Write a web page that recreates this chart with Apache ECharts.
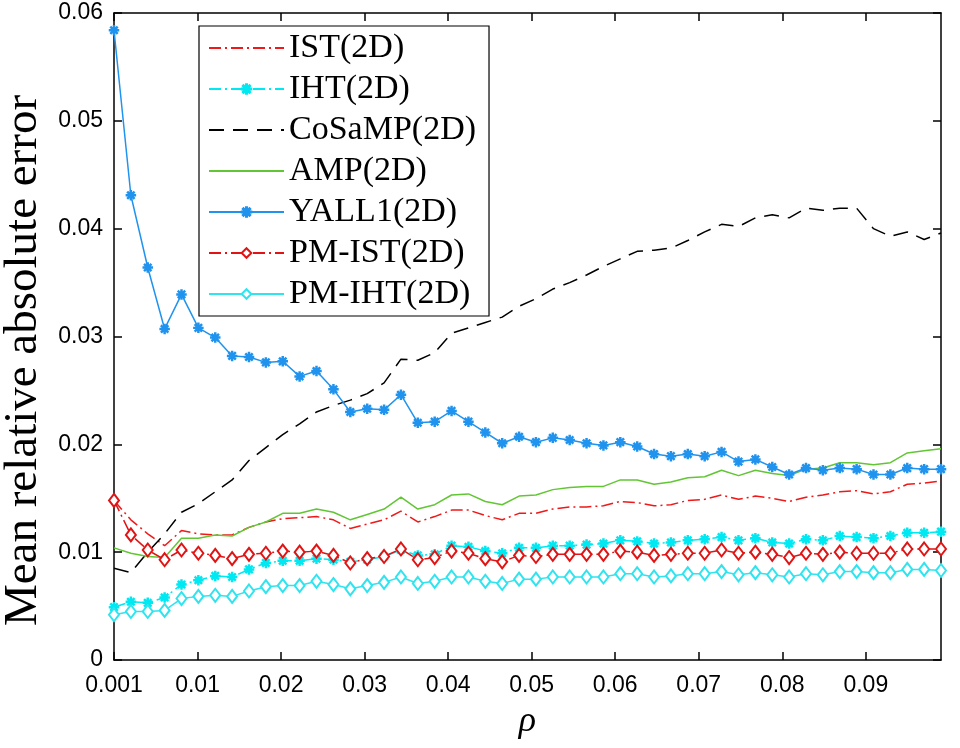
<!DOCTYPE html>
<html>
<head>
<meta charset="utf-8">
<script src="https://cdn.jsdelivr.net/npm/echarts@6/dist/echarts.min.js"></script>
<style>
  html, body { margin: 0; padding: 0; background: #fff; }
  #chart { width: 960px; height: 748px; }
</style>
</head>
<body>
<div id="chart"></div>
<script>
// ---- data ----
const rho = [0.00100,0.00302,0.00504,0.00706,0.00908,0.01110,0.01312,0.01514,0.01716,0.01918,
             0.02120,0.02322,0.02524,0.02727,0.02929,0.03131,0.03333,0.03535,0.03737,0.03939,
             0.04141,0.04343,0.04545,0.04747,0.04949,0.05151,0.05353,0.05555,0.05757,0.05959,
             0.06161,0.06363,0.06565,0.06767,0.06969,0.07171,0.07373,0.07576,0.07778,0.07980,
             0.08182,0.08384,0.08586,0.08788,0.08990,0.09192,0.09394,0.09596,0.09798,0.10000];

const xTickValues = [0.001,0.011,0.021,0.031,0.041,0.051,0.061,0.071,0.081,0.091];
const xTickLabels = ['0.001','0.01','0.02','0.03','0.04','0.05','0.06','0.07','0.08','0.09'];

const IST = [.0148,.0130,.0117,.0106,.0120,.0117,.0116,.0116,.0123,.0128,
             .0131,.0132,.0133,.0130,.0122,.0126,.0130,.0138,.0128,.0133,
             .0139,.0139,.0134,.0130,.0136,.0136,.0140,.0142,.0142,.0143,
             .0147,.0146,.0143,.0144,.0148,.0149,.0153,.0149,.0152,.0150,
             .0147,.0151,.0153,.0156,.0157,.0154,.0156,.0163,.0164,.0166];

const IHT = [.0049,.0054,.0053,.0058,.0070,.0074,.0078,.0077,.0084,.0090,
             .0092,.0092,.0094,.0093,.0091,.0093,.0096,.0102,.0097,.0098,
             .0106,.0105,.0101,.0099,.0104,.0104,.0106,.0106,.0107,.0108,
             .0111,.0110,.0108,.0109,.0111,.0112,.0114,.0111,.0113,.0109,
             .0108,.0112,.0111,.0115,.0114,.0113,.0115,.0118,.0118,.0119];

const CoSaMP = [.0085,.0081,.0100,.0117,.0137,.0145,.0156,.0167,.0185,.0197,
                .0209,.0219,.0230,.0236,.0241,.0247,.0257,.0279,.0278,.0285,
                .0303,.0308,.0313,.0318,.0328,.0335,.0344,.0350,.0357,.0365,
                .0372,.0379,.0380,.0382,.0389,.0397,.0404,.0402,.0410,.0413,
                .0410,.0419,.0417,.0419,.0419,.0400,.0393,.0397,.0390,.0396];

const AMP = [.0104,.0099,.0096,.0095,.0113,.0113,.0116,.0115,.0123,.0128,
             .0136,.0136,.0140,.0137,.0130,.0135,.0140,.0151,.0140,.0144,
             .0153,.0154,.0147,.0144,.0152,.0153,.0158,.0160,.0161,.0161,
             .0167,.0167,.0163,.0165,.0169,.0170,.0176,.0171,.0176,.0173,
             .0171,.0177,.0178,.0183,.0183,.0181,.0183,.0192,.0194,.0196];

const YALL1 = [.0584,.0431,.0364,.0307,.0339,.0308,.0299,.0282,.0281,.0276,
               .0277,.0263,.0268,.0251,.0230,.0233,.0232,.0246,.0220,.0221,
               .0231,.0221,.0211,.0201,.0207,.0202,.0206,.0204,.0201,.0199,
               .0202,.0198,.0191,.0189,.0191,.0189,.0193,.0184,.0186,.0179,
               .0172,.0178,.0176,.0178,.0177,.0172,.0172,.0178,.0177,.0177];

const PM_IST = [.0148,.0116,.0102,.0093,.0102,.0099,.0097,.0094,.0098,.0099,
                .0101,.0100,.0101,.0097,.0090,.0094,.0096,.0103,.0093,.0095,
                .0101,.0099,.0094,.0091,.0097,.0096,.0098,.0098,.0098,.0098,
                .0101,.0100,.0097,.0098,.0099,.0099,.0102,.0099,.0100,.0098,
                .0095,.0099,.0098,.0100,.0099,.0099,.0099,.0103,.0103,.0103];

const PM_IHT = [.0042,.0045,.0045,.0046,.0057,.0059,.0060,.0059,.0064,.0068,
                .0069,.0069,.0073,.0070,.0066,.0069,.0072,.0077,.0071,.0073,
                .0077,.0077,.0073,.0071,.0075,.0075,.0077,.0077,.0077,.0077,
                .0080,.0080,.0077,.0078,.0080,.0080,.0082,.0079,.0081,.0079,
                .0077,.0080,.0079,.0082,.0082,.0081,.0081,.0084,.0084,.0083];

const seriesNames = ['IST(2D)','IHT(2D)','CoSaMP(2D)','AMP(2D)','YALL1(2D)','PM-IST(2D)','PM-IHT(2D)'];
const seriesValues = [IST, IHT, CoSaMP, AMP, YALL1, PM_IST, PM_IHT];

// ---- styles ----
const asterisk = 'path://M-0.55,-5L0.55,-5L0.55,5L-0.55,5Z M-5,-0.55L5,-0.55L5,0.55L-5,0.55Z M-3.14,-3.92L3.92,3.14L3.14,3.92L-3.92,-3.14Z M-3.92,3.14L3.14,-3.92L3.92,-3.14L-3.14,3.92Z';
const dashDot = [12, 4, 2, 4];
const styles = [
  { color: '#f01818', type: dashDot, symbol: 'none' },
  { color: '#00e8f2', type: dashDot, symbol: asterisk, size: 9 },
  { color: '#000000', type: [15, 9], symbol: 'none' },
  { color: '#62c634', type: 'solid', symbol: 'none' },
  { color: '#1f93ee', type: 'solid', symbol: asterisk, size: 9 },
  { color: '#e01414', type: dashDot, symbol: 'emptyDiamond', size: [10, 13] },
  { color: '#2fe4ee', type: 'solid', symbol: 'emptyDiamond', size: [10, 13] }
];

function pairs(vals) { return vals.map((v, i) => [rho[i], v]); }

const series = seriesNames.map((name, i) => {
  const st = styles[i];
  const s = {
    name: name,
    type: 'line',
    xAxisIndex: 0,
    yAxisIndex: 0,
    data: pairs(seriesValues[i]),
    color: st.color,
    lineStyle: { color: st.color, width: 1.5, type: st.type },
    animation: false,
    silent: true
  };
  if (st.symbol === 'none') {
    s.symbol = 'none';
    s.showSymbol = false;
  } else {
    s.symbol = st.symbol;
    s.symbolSize = st.size;
    s.showSymbol = true;
    s.itemStyle = { color: st.color, borderColor: st.color, borderWidth: 1.5 };
  }
  return s;
});

const legendData = seriesNames.map((n, i) => {
  if (styles[i].symbol === 'none') return { name: n, itemStyle: { opacity: 0 } };
  return { name: n };
});

function fmtX(v) {
  let best = 0, d = Infinity;
  xTickValues.forEach((t, i) => { const dd = Math.abs(t - v); if (dd < d) { d = dd; best = i; } });
  return xTickLabels[best];
}

const axisLineStyle = { color: '#000', width: 1.5 };
const sansFont = "'Liberation Sans', Arial, Helvetica, sans-serif";
const serifFont = "'Liberation Serif', 'Times New Roman', serif";

const option = {
  backgroundColor: '#fff',
  animation: false,
  grid: { left: 114, right: 19, top: 13, bottom: 88, containLabel: false, outerBoundsMode: 'none' },
  xAxis: [
    {
      type: 'value', min: 0.001, max: 0.1, position: 'bottom',
      axisLine: { show: true, onZero: false, lineStyle: axisLineStyle },
      axisTick: { show: true, inside: true, length: 8, customValues: xTickValues, lineStyle: axisLineStyle },
      axisLabel: { show: true, customValues: xTickValues, formatter: fmtX, fontSize: 23, color: '#000', fontFamily: sansFont, margin: 14 },
      splitLine: { show: false },
      name: 'ρ', nameLocation: 'middle', nameGap: 44,
      nameTextStyle: { fontFamily: serifFont, fontStyle: 'italic', fontSize: 36, color: '#000' }
    },
    {
      type: 'value', min: 0.001, max: 0.1, position: 'top',
      axisLine: { show: true, onZero: false, lineStyle: axisLineStyle },
      axisTick: { show: true, inside: true, length: 8, customValues: xTickValues, lineStyle: axisLineStyle },
      axisLabel: { show: false },
      splitLine: { show: false }
    }
  ],
  yAxis: [
    {
      type: 'value', min: 0, max: 0.06, interval: 0.01, position: 'left',
      axisLine: { show: true, onZero: false, lineStyle: axisLineStyle },
      axisTick: { show: true, inside: true, length: 8, lineStyle: axisLineStyle },
      axisLabel: { show: true, fontSize: 23, color: '#000', fontFamily: sansFont, margin: 11 },
      splitLine: { show: false },
      name: 'Mean relative absolute error', nameLocation: 'middle', nameGap: 66,
      nameTextStyle: { fontFamily: serifFont, fontSize: 47, color: '#000', padding: [0, 48, 0, 0] }
    },
    {
      type: 'value', min: 0, max: 0.06, interval: 0.01, position: 'right',
      axisLine: { show: true, onZero: false, lineStyle: axisLineStyle },
      axisTick: { show: true, inside: true, length: 8, lineStyle: axisLineStyle },
      axisLabel: { show: false },
      splitLine: { show: false }
    }
  ],
  legend: {
    orient: 'vertical',
    left: 199, top: 26,
    data: legendData,
    backgroundColor: '#fff',
    borderColor: '#000',
    borderWidth: 1.2,
    borderRadius: 0,
    padding: [5, 13, 5, 9],
    itemGap: 7,
    itemWidth: 75,
    itemHeight: 12,
    selectedMode: false,
    textStyle: { fontFamily: serifFont, fontSize: 34, color: '#000', lineHeight: 34 }
  },
  series: series
};

const chart = echarts.init(document.getElementById('chart'), null, { renderer: 'canvas' });
chart.setOption(option);
</script>
</body>
</html>
